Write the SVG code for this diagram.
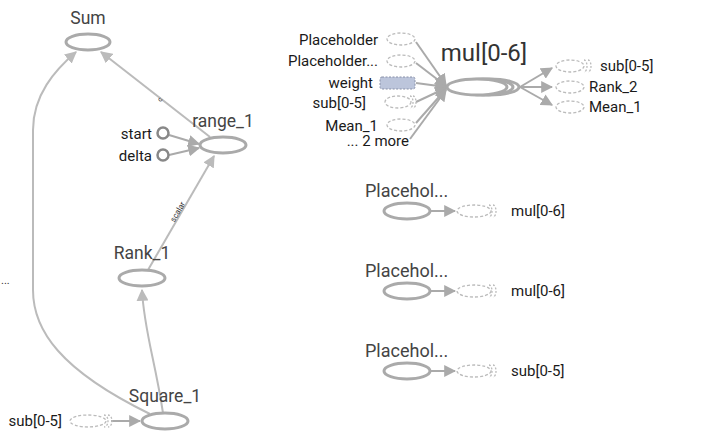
<svg xmlns="http://www.w3.org/2000/svg" width="720" height="440" viewBox="0 0 720 440">
<style>
text{font-family:Roboto,"Liberation Sans",sans-serif;fill:#333}
.nl{font-size:17.5px;fill:#444;text-anchor:middle}
.sl{font-size:15px;fill:#1a1a1a}
.r{text-anchor:end}
.op{fill:#fff;stroke:#aaa;stroke-width:3}
.ds{fill:#fff;stroke:#bbb;stroke-width:1.3;stroke-dasharray:3,2}
.da{fill:none;stroke:#bbb;stroke-width:1.3;stroke-dasharray:2,1.5}
.e{fill:none;stroke:#bbb;stroke-width:2}
.ed{fill:none;stroke:#aaa;stroke-width:2}
.cst{fill:#fff;stroke:#888;stroke-width:2.5}
.ph{font-size:18px;fill:#444}
</style>
<defs>
<marker id="ah" viewBox="0 0 10 10" refX="9" refY="5" markerWidth="6" markerHeight="6" orient="auto"><path d="M0,0L10,5L0,10z" fill="#bbb"/></marker>
<marker id="ahd" viewBox="0 0 10 10" refX="9" refY="5" markerWidth="6" markerHeight="6" orient="auto"><path d="M0,0L10,5L0,10z" fill="#aaa"/></marker>
</defs>
<g id="edges">
<path class="e" d="M150,414 C60,370 33,330 33,290 L33,130 C33,95 55,70 76,52" marker-end="url(#ah)"/>
<path class="e" d="M210,137 L101,52" marker-end="url(#ah)"/>
<text x="159" y="103" font-size="7" transform="rotate(-50 159 101)" fill="#666">c</text>
<path class="e" d="M148,270 L214,156" marker-end="url(#ah)"/>
<text x="0" y="0" font-size="8" fill="#666" text-anchor="middle" transform="translate(180,213) rotate(-60)">scalar</text>
<path class="e" d="M163,413 C155,360 144,330 142,290" marker-end="url(#ah)"/>
<path class="ed" d="M169,135 L199,144" marker-end="url(#ahd)"/>
<path class="ed" d="M169,155 L199,148" marker-end="url(#ahd)"/>
<path class="ed" d="M111,421 L140,421" marker-end="url(#ahd)"/>
<path class="ed" d="M416,42 L446,85" marker-end="url(#ahd)"/>
<path class="ed" d="M416,63 L446,86" marker-end="url(#ahd)"/>
<path class="ed" d="M416,83 L446,87" marker-end="url(#ahd)"/>
<path class="ed" d="M416,102 L446,88" marker-end="url(#ahd)"/>
<path class="ed" d="M416,123 L446,89" marker-end="url(#ahd)"/>
<path class="ed" d="M410,139 L446,90" marker-end="url(#ahd)"/>
<path class="ed" d="M520,87 L552,68" marker-end="url(#ahd)"/>
<path class="ed" d="M520,87 L552,87" marker-end="url(#ahd)"/>
<path class="ed" d="M520,87 L552,105" marker-end="url(#ahd)"/>
<path class="ed" d="M430,211 L455,211" marker-end="url(#ahd)"/>
<path class="ed" d="M430,291 L455,291" marker-end="url(#ahd)"/>
<path class="ed" d="M430,371 L455,371" marker-end="url(#ahd)"/>
</g>
<g id="sum"><text class="nl" x="88" y="24">Sum</text><ellipse class="op" cx="88" cy="42" rx="22" ry="8"/></g>
<g id="range_1"><text class="nl" x="223" y="127">range_1</text><ellipse class="op" cx="223" cy="145" rx="23" ry="8"/></g>
<g id="start"><text class="sl r" x="152" y="139">start</text><circle class="cst" cx="163" cy="133" r="5.5"/></g>
<g id="delta"><text class="sl r" x="152" y="161">delta</text><circle class="cst" cx="163" cy="155" r="5.5"/></g>
<g id="rank_1"><text class="nl" x="142" y="259">Rank_1</text><ellipse class="op" cx="142" cy="278" rx="23" ry="8"/></g>
<g id="square_1"><text class="nl" x="165" y="402">Square_1</text><ellipse class="op" cx="165" cy="421" rx="23" ry="8"/></g>
<g id="sub_in_sq"><text class="sl r" x="62" y="426">sub[0-5]</text><ellipse class="ds" cx="88" cy="421" rx="18" ry="6"/><path class="da" d="M104,415 A4,6 0 0 1 104,427 M108,415 A4,6 0 0 1 108,427"/></g>
<g id="more_left"><text x="1" y="284" font-size="11" fill="#a33">...</text></g>
<g id="mul">
<text x="484" y="61" font-size="24" fill="#444" text-anchor="middle">mul[0-6]</text>
<ellipse class="op" cx="489" cy="87" rx="30" ry="8"/>
<ellipse class="op" cx="483" cy="87" rx="30" ry="8"/>
<ellipse class="op" cx="477" cy="87" rx="30" ry="8"/>
</g>
<g id="in_placeholder"><text class="sl r" x="378" y="45">Placeholder</text><ellipse class="ds" cx="401" cy="39" rx="14" ry="6"/></g>
<g id="in_placeholder2"><text class="sl r" x="378" y="66">Placeholder...</text><ellipse class="ds" cx="401" cy="61" rx="14" ry="6"/></g>
<g id="in_weight"><text class="sl r" x="373" y="88">weight</text><rect x="380" y="77" width="35" height="12" rx="2" fill="#bcc5db" stroke="#8890a8" stroke-width="1" stroke-dasharray="2,1.5"/></g>
<g id="in_sub"><text class="sl r" x="366" y="108">sub[0-5]</text><ellipse class="ds" cx="398" cy="102" rx="13" ry="6"/><path class="da" d="M410,96 A3,6 0 0 1 410,108 M413,96 A3,6 0 0 1 413,108"/></g>
<g id="in_mean"><text class="sl r" x="378" y="131">Mean_1</text><ellipse class="ds" cx="401" cy="125" rx="14" ry="6"/></g>
<g id="in_more"><text class="sl r" x="409" y="146">... 2 more</text></g>
<g id="out_sub"><ellipse class="ds" cx="570" cy="66" rx="14" ry="6"/><path class="da" d="M584,60 A3,6 0 0 1 584,72 M588,60 A3,6 0 0 1 588,72"/><text class="sl" x="600" y="71">sub[0-5]</text></g>
<g id="out_rank2"><ellipse class="ds" cx="570" cy="87" rx="14" ry="6"/><text class="sl" x="589" y="92">Rank_2</text></g>
<g id="out_mean"><ellipse class="ds" cx="570" cy="107" rx="14" ry="6"/><text class="sl" x="589" y="112">Mean_1</text></g>
<g id="ph1"><text class="ph" x="365" y="197">Placehol...</text><ellipse class="op" cx="407" cy="211" rx="23" ry="8"/><ellipse class="ds" cx="474" cy="211" rx="17" ry="6"/><path class="da" d="M489,205 A3,6 0 0 1 489,217 M493,205 A3,6 0 0 1 493,217"/><text class="sl" x="511" y="216">mul[0-6]</text></g>
<g id="ph2"><text class="ph" x="365" y="277">Placehol...</text><ellipse class="op" cx="407" cy="291" rx="23" ry="8"/><ellipse class="ds" cx="474" cy="291" rx="17" ry="6"/><path class="da" d="M489,285 A3,6 0 0 1 489,297 M493,285 A3,6 0 0 1 493,297"/><text class="sl" x="511" y="296">mul[0-6]</text></g>
<g id="ph3"><text class="ph" x="365" y="357">Placehol...</text><ellipse class="op" cx="407" cy="371" rx="23" ry="8"/><ellipse class="ds" cx="474" cy="371" rx="17" ry="6"/><path class="da" d="M489,365 A3,6 0 0 1 489,377 M493,365 A3,6 0 0 1 493,377"/><text class="sl" x="511" y="376">sub[0-5]</text></g>
</svg>
